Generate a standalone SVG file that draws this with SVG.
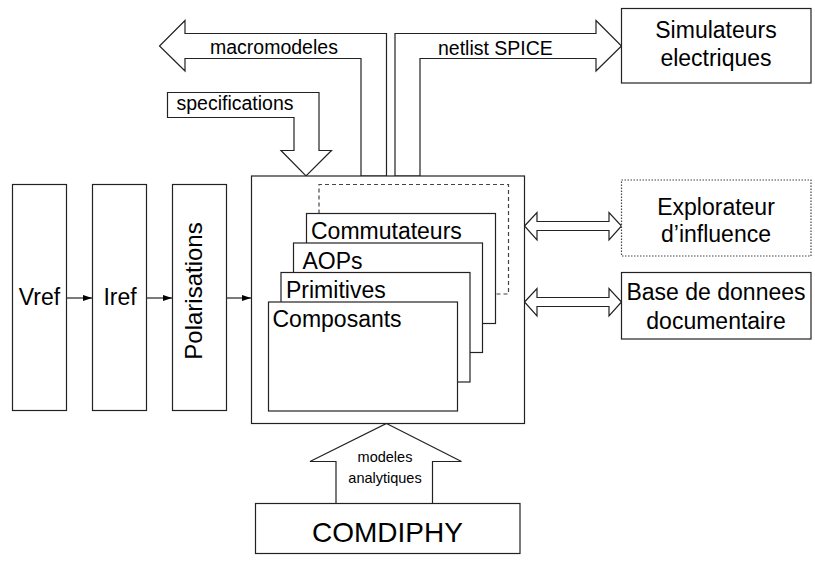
<svg xmlns="http://www.w3.org/2000/svg" width="815" height="565" viewBox="0 0 815 565">
<style>
  .box{fill:#fff;stroke:#222;stroke-width:1.2}
  .big{fill:#fff;stroke:#222;stroke-width:1.2}
  .dot{fill:#fff;stroke:#444;stroke-width:1.2;stroke-dasharray:1.5 1.5}
  .dash{fill:none;stroke:#444;stroke-width:1.2;stroke-dasharray:4 3}
  .t{font-family:"Liberation Sans",Arial,sans-serif;fill:#000}
  .l23{font-size:23px}
  .l19{font-size:19.5px}
  .l14{font-size:14.5px}
  .c{text-anchor:middle}
  .line{stroke:#222;stroke-width:1.2;fill:none}
</style>
<defs>
  <marker id="ah" markerWidth="9" markerHeight="7" refX="9" refY="3.5" orient="auto" markerUnits="userSpaceOnUse">
    <path d="M0,0.5 L9,3.5 L0,6.5 Z" fill="#000"/>
  </marker>
</defs>
<rect width="815" height="565" fill="#fff"/>

<g id="connectors">
  <line class="line" x1="66.5" y1="298" x2="92" y2="298" marker-end="url(#ah)"/>
  <line class="line" x1="146.5" y1="298" x2="172" y2="298" marker-end="url(#ah)"/>
  <line class="line" x1="226.5" y1="298" x2="251" y2="298" marker-end="url(#ah)"/>
  <g id="macromodeles">
    <polygon class="box" points="386.5,176 386.5,33.5 185,33.5 185,20.5 159.5,46 185,71 185,58.5 361,58.5 361,176"/>
    <text class="t l19" x="210" y="53.5">macromodeles</text>
  </g>
  <g id="netlist">
    <polygon class="box" points="395,176 395,33.5 596,33.5 596,20.5 621.5,46 596,71 596,58.5 420,58.5 420,176"/>
    <text class="t l19" x="438" y="54.5">netlist SPICE</text>
  </g>
  <g id="specifications">
    <polygon class="box" points="167.5,92.5 319,92.5 319,150.5 331.5,150.5 306,176 281,150.5 294,150.5 294,117.5 167.5,117.5"/>
    <text class="t l19" x="176.5" y="109.5">specifications</text>
  </g>
  <g id="arrow-explorateur">
    <polygon class="box" points="524.5,226 537,212.5 537,221.5 609,221.5 609,212.5 621.5,226 609,240 609,230.5 537,230.5 537,240"/>
  </g>
  <g id="arrow-base">
    <polygon class="box" points="524.5,302 537,288.5 537,297.5 609,297.5 609,288.5 621.5,302 609,316 609,306.5 537,306.5 537,316"/>
  </g>
  <g id="modeles-analytiques">
    <polygon class="box" points="386.5,423.5 461.5,461.5 432.5,461.5 432.5,503.5 336,503.5 336,461.5 310,461.5"/>
    <text class="t l14 c" x="385" y="461.5">modeles</text>
    <text class="t l14 c" x="385" y="482.5">analytiques</text>
  </g>
</g>

<g id="vref">
  <rect class="box" x="12.5" y="184.5" width="54" height="226"/>
  <text class="t l23 c" x="39.5" y="305">Vref</text>
</g>
<g id="iref">
  <rect class="box" x="92.5" y="184.5" width="54" height="226"/>
  <text class="t l23 c" x="120" y="305">Iref</text>
</g>
<g id="polarisations">
  <rect class="box" x="172.5" y="184.5" width="54" height="226"/>
  <text class="t c" font-size="24" transform="translate(201.5,291) rotate(-90)">Polarisations</text>
</g>

<g id="main">
  <rect class="big" x="251.5" y="176" width="273" height="247.5"/>
  <polyline class="dash" points="319,213.5 319,184.5 508.5,184.5 508.5,294 495.5,294"/>
  <g id="commutateurs">
    <rect class="box" x="306.5" y="213.5" width="189" height="110"/>
    <text class="t l23" x="311" y="238.5">Commutateurs</text>
  </g>
  <g id="aops">
    <rect class="box" x="293.5" y="243" width="189" height="109.5"/>
    <text class="t l23" x="302.5" y="268.5">AOPs</text>
  </g>
  <g id="primitives">
    <rect class="box" x="281" y="272.5" width="189" height="109.5"/>
    <text class="t l23" x="286" y="297.5">Primitives</text>
  </g>
  <g id="composants">
    <rect class="box" x="268.5" y="302" width="189" height="109"/>
    <text class="t l23" x="272.5" y="326.5">Composants</text>
  </g>
</g>

<g id="simulateurs">
  <rect class="box" x="621.5" y="8.5" width="189.5" height="74.5"/>
  <text class="t l23 c" x="716" y="37.5">Simulateurs</text>
  <text class="t l23 c" x="716" y="66">electriques</text>
</g>
<g id="explorateur">
  <rect class="dot" x="621.5" y="180" width="189.5" height="76"/>
  <text class="t l23 c" x="716" y="214.5">Explorateur</text>
  <text class="t l23 c" x="716" y="241.5">d’influence</text>
</g>
<g id="base">
  <rect class="box" x="621.5" y="272.5" width="189.5" height="66.5"/>
  <text class="t l23 c" x="716" y="300">Base de donnees</text>
  <text class="t l23 c" x="716" y="329">documentaire</text>
</g>
<g id="comdiphy">
  <rect class="box" x="255.5" y="503.5" width="264.5" height="50"/>
  <text class="t c" font-size="28" x="387.5" y="541.5">COMDIPHY</text>
</g>
</svg>
